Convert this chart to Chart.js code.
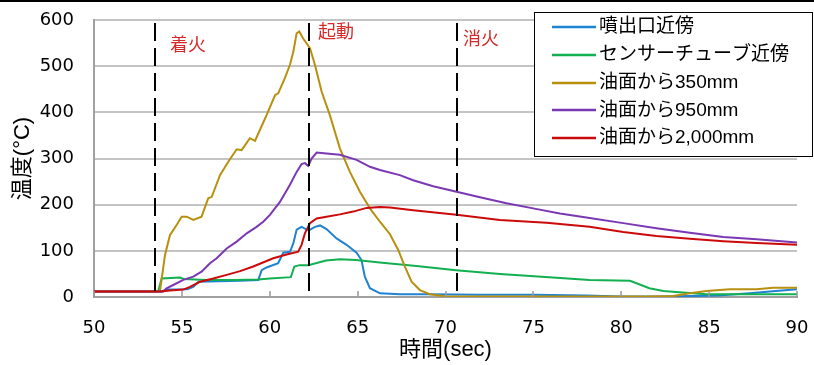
<!DOCTYPE html>
<html>
<head>
<meta charset="utf-8">
<script src="https://cdn.jsdelivr.net/npm/chart.js@4.4.0/dist/chart.umd.min.js"></script>
<style>
  html, body { margin: 0; padding: 0; background: #fff; }
  canvas { display: block; }
</style>
</head>
<body>
<canvas id="chart" width="814" height="365"></canvas>
<script>
// [time (sec), temperature (°C)]
var nozzle = [[50, 12], [53.9, 12], [54.1, 16], [55.3, 17], [55.65, 22], [55.95, 33], [58.3, 35], [59.35, 37],
    [59.54, 58], [59.82, 64], [60.48, 73], [60.77, 96], [61.15, 98], [61.34, 116], [61.53, 146], [61.81, 152],
    [62.06, 147], [62.25, 145], [62.57, 152], [62.86, 155], [63.23, 147], [63.8, 127], [64.37, 113], [64.94, 96],
    [65.22, 80], [65.41, 44], [65.7, 19], [66.27, 8], [67.4, 6], [69, 6], [72, 5], [75, 5], [78, 3], [80, 1],
    [82, 1], [84, 2], [85.5, 3], [87.3, 8], [88.8, 13], [90, 17]];
var sensorTube = [[50, 12], [53.65, 12], [53.85, 40], [54.9, 42], [55.1, 39], [56.4, 37], [58, 37], [59.35, 38],
    [60, 40], [61.2, 43], [61.4, 66], [61.7, 69], [62.2, 69], [63.2, 79], [64, 82], [64.9, 80], [66.4, 74],
    [68.35, 67], [70.6, 58], [73.1, 50], [75.9, 43], [78.2, 37], [80.5, 35], [81.05, 27], [81.6, 19], [82.4, 13],
    [83.5, 10], [84.85, 6], [90, 6]];
var oil350 = [[50, 12], [53.75, 12], [54.04, 91], [54.32, 134], [54.7, 156], [54.99, 174], [55.27, 174], [55.65, 167],
    [56.12, 174], [56.5, 214], [56.7, 217], [57.17, 264], [57.64, 293], [58.12, 320], [58.4, 318], [58.87, 344],
    [59.16, 338], [59.63, 378], [59.82, 394], [60.3, 437], [60.48, 441], [60.86, 474], [61.15, 503], [61.34, 531],
    [61.53, 571], [61.68, 575], [61.9, 560], [62.29, 539], [62.57, 503], [62.95, 445], [63.42, 394], [63.99, 322],
    [64.56, 271], [65.13, 228], [65.7, 192], [66.27, 163], [66.84, 136], [67.31, 102], [67.69, 66], [68.07, 33],
    [68.54, 15], [69.11, 6], [70.06, 1], [75, 1], [81.5, 1], [82.95, 2], [83.9, 8], [84.85, 13], [86.18, 17],
    [87.7, 17], [88.64, 20], [90, 20]];
var oil950 = [[50, 12], [53.94, 12], [54.13, 19], [54.51, 26], [55.08, 37], [55.65, 44], [56.12, 55], [56.6, 73],
    [56.98, 84], [57.55, 105], [58.12, 120], [58.69, 138], [59.25, 152], [59.63, 163], [60.01, 178], [60.58, 206],
    [61.15, 243], [61.53, 271], [61.81, 288], [62.0, 290], [62.19, 284], [62.38, 300], [62.67, 313], [63.23, 311],
    [63.99, 308], [64.94, 297], [65.7, 282], [66.27, 275], [67.4, 264], [68.16, 253], [69.3, 240], [70.63, 228],
    [71.96, 216], [73.47, 203], [74.99, 192], [76.51, 181], [78.2, 171], [80.11, 160], [82.0, 149], [83.9, 139],
    [85.8, 130], [87.7, 125], [90, 118]];
var oil2000 = [[50, 12], [53.75, 12], [54.32, 14], [55.08, 16], [55.46, 22], [56.03, 33], [56.79, 40], [57.55, 48],
    [58.31, 56], [59.06, 66], [59.44, 72], [60.2, 84], [60.96, 92], [61.62, 98], [61.81, 113], [62.0, 138],
    [62.29, 160], [62.67, 170], [63.23, 174], [63.99, 179], [64.75, 185], [65.51, 193], [66.27, 195], [66.84, 194],
    [68.16, 188], [70.63, 178], [73.09, 167], [75.75, 161], [78.2, 152], [80.11, 141], [82.0, 132], [83.9, 126],
    [85.8, 121], [87.7, 117], [90, 113]];

var seriesNames = ["噴出口近傍", "センサーチューブ近傍", "油面から350mm", "油面から950mm", "油面から2,000mm"];
var seriesData = [nozzle, sensorTube, oil350, oil950, oil2000];
var seriesColors = ["#1f82d2", "#12b050", "#b8900f", "#7a38b3", "#cc0a0a"];

var eventTimes = [53.47, 62.23, 70.67];
var eventLabels = ["着火", "起動", "消火"];

var xTicks = [50, 55, 60, 65, 70, 75, 80, 85, 90];
var yTicks = [0, 100, 200, 300, 400, 500, 600];

var jpFont = "'Liberation Sans', 'Noto Sans CJK JP', sans-serif";
var numFont = "'DejaVu Sans', sans-serif";

var decor = {
    id: "decor",
    beforeDraw: function (chart) {
        var ctx = chart.ctx;
        ctx.save();
        ctx.fillStyle = "#fff";
        ctx.fillRect(0, 0, chart.width, chart.height);
        ctx.restore();
    },
    afterDatasetsDraw: function (chart) {
        var ctx = chart.ctx, xs = chart.scales.x, area = chart.chartArea;
        ctx.save();
        // small inward tick marks on the time axis
        ctx.strokeStyle = "#9a9a9a";
        ctx.lineWidth = 1.5;
        xTicks.forEach(function (t) {
            var px = Math.round(xs.getPixelForValue(t));
            ctx.beginPath();
            ctx.moveTo(px, area.bottom);
            ctx.lineTo(px, area.bottom - 6);
            ctx.stroke();
        });
        // event markers
        var labelPos = [[15, 46], [9, 33], [6, 40]];
        ctx.strokeStyle = "#000";
        ctx.lineWidth = 2;
        ctx.setLineDash([18, 7]);
        ctx.font = "18px " + jpFont;
        ctx.fillStyle = "#d42a2a";
        ctx.textBaseline = "middle";
        ctx.textAlign = "left";
        eventTimes.forEach(function (t, i) {
            var px = Math.round(xs.getPixelForValue(t));
            ctx.beginPath();
            ctx.moveTo(px, area.top + 3);
            ctx.lineTo(px, area.bottom);
            ctx.stroke();
            ctx.fillText(eventLabels[i], px + labelPos[i][0], labelPos[i][1]);
        });
        ctx.restore();
    },
    afterDraw: function (chart) {
        var ctx = chart.ctx;
        ctx.save();
        // legend box
        ctx.fillStyle = "#fff";
        ctx.fillRect(534, 12, 279, 145);
        ctx.strokeStyle = "#000";
        ctx.lineWidth = 1;
        ctx.strokeRect(534.5, 12.5, 278, 144);
        ctx.font = "19px " + jpFont;
        ctx.textBaseline = "middle";
        ctx.textAlign = "left";
        seriesNames.forEach(function (name, i) {
            var y = 27 + i * 27.8;
            ctx.strokeStyle = seriesColors[i];
            ctx.lineWidth = 2.5;
            ctx.beginPath();
            ctx.moveTo(552, Math.round(y));
            ctx.lineTo(596, Math.round(y));
            ctx.stroke();
            ctx.fillStyle = "#000";
            ctx.fillText(name, 599, y);
        });
        // top frame line
        ctx.fillStyle = "#000";
        ctx.fillRect(0, 0, chart.width, 2);
        ctx.restore();
    }
};

window.onload = function () {
    var datasets = seriesData.map(function (s, i) {
        return {
            label: seriesNames[i],
            data: s.map(function (p) { return {x: p[0], y: p[1]}; }),
            borderColor: seriesColors[i],
            backgroundColor: seriesColors[i],
            borderWidth: 2,
            pointRadius: 0,
            tension: 0,
            fill: false,
            order: seriesData.length - i
        };
    });

    new Chart("chart", {
        type: "line",
        data: {datasets: datasets},
        options: {
            responsive: false,
            animation: false,
            events: [],
            layout: {padding: {left: 0, right: 17, top: 20, bottom: 0}},
            plugins: {
                legend: {display: false},
                tooltip: {enabled: false}
            },
            scales: {
                x: {
                    type: "linear",
                    min: 50,
                    max: 90,
                    afterBuildTicks: function (scale) {
                        scale.ticks = xTicks.map(function (v) { return {value: v}; });
                    },
                    afterFit: function (scale) {
                        scale.height = 68;
                        scale.paddingLeft = 0;
                        scale.paddingRight = 0;
                    },
                    grid: {display: false, drawTicks: false},
                    border: {display: true, color: "#a0a0a0", width: 2},
                    ticks: {font: {family: numFont, size: 18}, color: "#000", padding: 21, maxRotation: 0},
                    title: {
                        display: true,
                        text: "時間(sec)",
                        font: {family: jpFont, size: 22},
                        color: "#000",
                        padding: {top: 0, bottom: 2}
                    }
                },
                y: {
                    min: 0,
                    max: 600,
                    afterBuildTicks: function (scale) {
                        scale.ticks = yTicks.map(function (v) { return {value: v}; });
                    },
                    afterFit: function (scale) {
                        scale.width = 94;
                        scale.paddingTop = 0;
                        scale.paddingBottom = 0;
                    },
                    grid: {color: "#c4c4c4", lineWidth: 2, drawTicks: false},
                    border: {display: true, color: "#a0a0a0", width: 2},
                    ticks: {font: {family: numFont, size: 18}, color: "#000", padding: 20},
                    title: {
                        display: true,
                        text: "温度(°C)",
                        font: {family: jpFont, size: 22},
                        color: "#000",
                        padding: {top: 10, bottom: 0}
                    }
                }
            }
        },
        plugins: [decor]
    });
};
</script>
</body>
</html>
